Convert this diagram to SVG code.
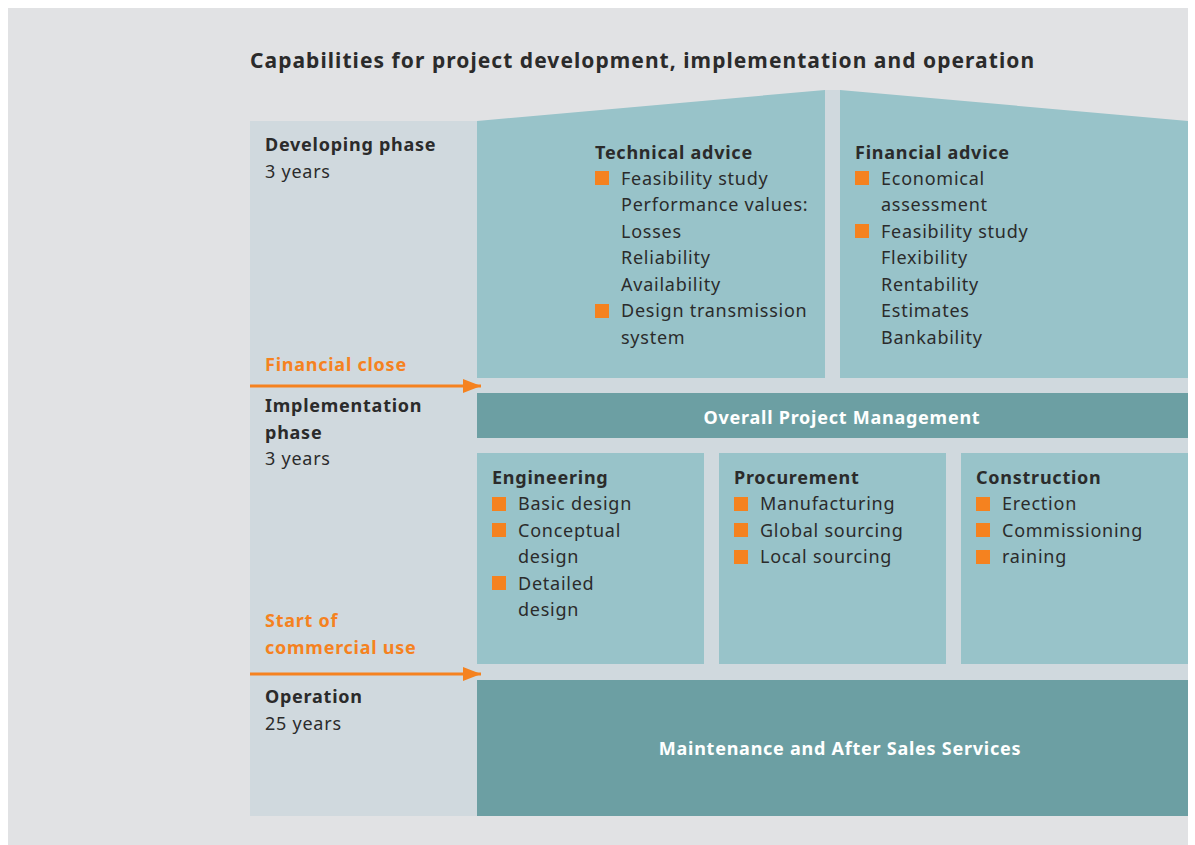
<svg xmlns="http://www.w3.org/2000/svg" width="1195" height="845" viewBox="0 0 1195 845">
<defs>
<style>
text{font-family:"Noto Sans","Open Sans",sans-serif;font-size:18px;fill:#2b2b2b;letter-spacing:0.75px}
.b{font-weight:bold}
.t{font-size:21px;font-weight:bold;letter-spacing:1.05px}
.o{fill:#f5821f;font-weight:bold}
.w{fill:#ffffff;font-weight:bold}
.box{fill:#98c3c9}
.dk{fill:#6c9fa3}
.bul{fill:#f5821f}
</style>
<marker id="ah" markerWidth="6" markerHeight="4.6" refX="6" refY="2.3" orient="auto" markerUnits="strokeWidth">
<path d="M0,0 L6,2.3 L0,4.6 Z" fill="#f5821f"/>
</marker>
<rect id="sq" width="14" height="14" class="bul"/>
</defs>
<rect x="0" y="0" width="1195" height="845" fill="#ffffff"/>
<rect x="8" y="8" width="1180" height="837" fill="#e1e2e4"/>
<text x="250" y="68" class="t">Capabilities for project development, implementation and operation</text>
<g id="panel">
<rect x="250" y="121" width="938" height="695" fill="#d0d9de"/>
<rect x="825" y="90" width="15" height="31" fill="#d0d9de"/>
</g>
<g id="phases">
<text x="265" y="151" class="b">Developing phase</text>
<text x="265" y="178">3 years</text>
<text x="265" y="371" class="o">Financial close</text>
<text x="265" y="412" class="b">Implementation</text>
<text x="265" y="439" class="b">phase</text>
<text x="265" y="465">3 years</text>
<text x="265" y="627" class="o">Start of</text>
<text x="265" y="654" class="o">commercial use</text>
<text x="265" y="703" class="b">Operation</text>
<text x="265" y="730">25 years</text>
</g>
<g id="technical-advice">
<polygon points="477,121 825,90 825,378 477,378" class="box"/>
<text x="595" y="159" class="b">Technical advice</text>
<use href="#sq" x="595" y="171"/>
<text x="621" y="185">Feasibility study</text>
<text x="621" y="211">Performance values:</text>
<text x="621" y="238">Losses</text>
<text x="621" y="264">Reliability</text>
<text x="621" y="291">Availability</text>
<use href="#sq" x="595" y="304"/>
<text x="621" y="317">Design transmission</text>
<text x="621" y="344">system</text>
</g>
<g id="financial-advice">
<polygon points="840,90 1188,121 1188,378 840,378" class="box"/>
<text x="855" y="159" class="b">Financial advice</text>
<use href="#sq" x="855" y="171"/>
<text x="881" y="185">Economical</text>
<text x="881" y="211">assessment</text>
<use href="#sq" x="855" y="224"/>
<text x="881" y="238">Feasibility study</text>
<text x="881" y="264">Flexibility</text>
<text x="881" y="291">Rentability</text>
<text x="881" y="317">Estimates</text>
<text x="881" y="344">Bankability</text>
</g>
<g id="overall-pm">
<rect x="477" y="393" width="711" height="45" class="dk"/>
<text x="842" y="424" class="w" text-anchor="middle">Overall Project Management</text>
</g>
<g id="engineering">
<rect x="477" y="453" width="227" height="211" class="box"/>
<text x="492" y="484" class="b">Engineering</text>
<use href="#sq" x="492" y="497"/>
<text x="518" y="510">Basic design</text>
<use href="#sq" x="492" y="523"/>
<text x="518" y="537">Conceptual</text>
<text x="518" y="563">design</text>
<use href="#sq" x="492" y="576"/>
<text x="518" y="590">Detailed</text>
<text x="518" y="616">design</text>
</g>
<g id="procurement">
<rect x="719" y="453" width="227" height="211" class="box"/>
<text x="734" y="484" class="b">Procurement</text>
<use href="#sq" x="734" y="497"/>
<text x="760" y="510">Manufacturing</text>
<use href="#sq" x="734" y="523"/>
<text x="760" y="537">Global sourcing</text>
<use href="#sq" x="734" y="550"/>
<text x="760" y="563">Local sourcing</text>
</g>
<g id="construction">
<rect x="961" y="453" width="227" height="211" class="box"/>
<text x="976" y="484" class="b">Construction</text>
<use href="#sq" x="976" y="497"/>
<text x="1002" y="510">Erection</text>
<use href="#sq" x="976" y="523"/>
<text x="1002" y="537">Commissioning</text>
<use href="#sq" x="976" y="550"/>
<text x="1002" y="563">raining</text>
</g>
<g id="maintenance">
<rect x="477" y="680" width="711" height="136" class="dk"/>
<text x="840" y="755" class="w" text-anchor="middle">Maintenance and After Sales Services</text>
</g>
<g id="connectors" stroke="#f5821f" stroke-width="3" fill="none">
<line x1="250" y1="386" x2="481" y2="386" marker-end="url(#ah)"/>
<line x1="250" y1="674" x2="481" y2="674" marker-end="url(#ah)"/>
</g>
</svg>
